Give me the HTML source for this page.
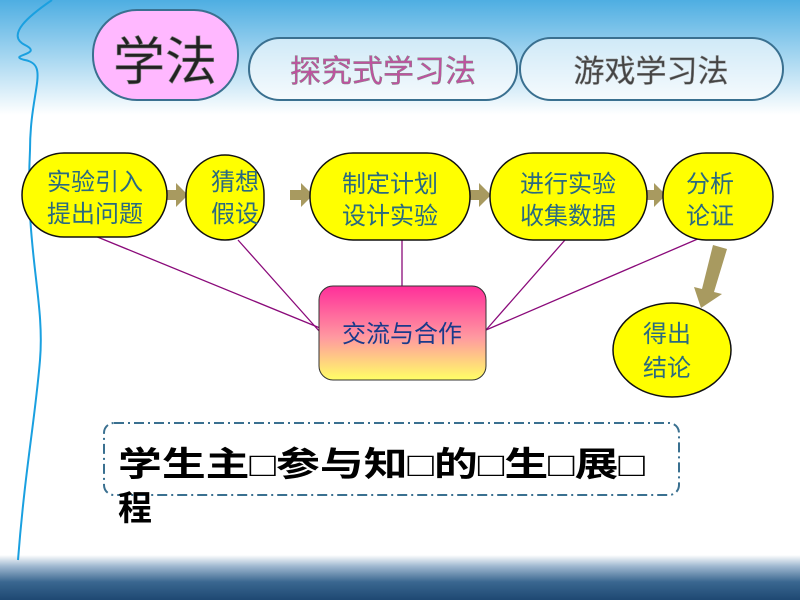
<!DOCTYPE html><html><head><meta charset="utf-8"><style>body{margin:0}svg{display:block}text{font-family:"Liberation Sans","Noto Sans CJK SC",sans-serif}</style></head><body>
<svg width="800" height="600" viewBox="0 0 800 600">
<defs>
<linearGradient id="top" x1="0" y1="0" x2="0" y2="1"><stop offset="0" stop-color="#4eaee2"/><stop offset="1" stop-color="#fff"/></linearGradient>
<linearGradient id="sea" x1="0" y1="0" x2="0" y2="1"><stop offset="0" stop-color="#fff"/><stop offset="0.25" stop-color="#9fb8d0"/><stop offset="0.6" stop-color="#3a6790"/><stop offset="1" stop-color="#1e4872"/></linearGradient>
<linearGradient id="pk" x1="0" y1="0" x2="0" y2="1"><stop offset="0" stop-color="#ff2e9a"/><stop offset="0.55" stop-color="#ff9aa0"/><stop offset="1" stop-color="#ffff66"/></linearGradient>
</defs>
<rect width="800" height="600" fill="#fff"/>
<rect width="800" height="115" fill="url(#top)"/>
<rect y="555" width="800" height="45" fill="url(#sea)"/>
<path d="M52 0 C30 15,5 35,25 45 C45 55,5 55,25 60 C50 65,30 90,30 150 C25 250,45 300,40 360 C35 420,25 470,18 560" stroke="#1aa0e0" stroke-width="2" fill="none"/>
<rect x="93" y="10" width="145" height="90" rx="44" fill="#ffb8ff" stroke="#3a7090" stroke-width="2"/>
<text x="165" y="80" font-size="52" text-anchor="middle" fill="#222" stroke="#888" stroke-width="0.6">学法</text>
<rect x="249" y="38" width="268" height="62" rx="31" fill="#fff" fill-opacity="0.6" stroke="#3a7090" stroke-width="2"/>
<text x="383" y="82" font-size="31" text-anchor="middle" fill="#c050a0" stroke="#888" stroke-width="0.5">探究式学习法</text>
<rect x="520" y="38" width="263" height="62" rx="31" fill="#fff" fill-opacity="0.6" stroke="#3a7090" stroke-width="2"/>
<text x="651" y="82" font-size="31" text-anchor="middle" fill="#444" stroke="#888" stroke-width="0.5">游戏学习法</text>
<g stroke="#8a0a7a" stroke-width="1.3">
<line x1="95" y1="236" x2="320" y2="328"/><line x1="238" y1="240" x2="320" y2="332"/><line x1="402" y1="240" x2="402" y2="286"/><line x1="565" y1="240" x2="486" y2="330"/><line x1="700" y1="238" x2="486" y2="330"/></g>
<g fill="#a89a60">
<polygon points="165,190 176,190 176,183 188,195 176,207 176,200 165,200"/>
<polygon points="290,190 301,190 301,183 313,195 301,207 301,200 290,200"/>
<polygon points="468,190 479,190 479,183 491,195 479,207 479,200 468,200"/>
<polygon points="643,190 654,190 654,183 666,195 654,207 654,200 643,200"/>
<polygon points="713,245 727,249 714,292 722,294 701,308 694,287 702,289"/></g>
<g fill="#ffff00" stroke="#111" stroke-width="1.5">
<rect x="22" y="153" width="145" height="84" rx="42"/>
<rect x="186" y="155" width="78" height="85" rx="39"/>
<rect x="310" y="153" width="160" height="87" rx="43"/>
<rect x="490" y="153" width="157" height="87" rx="43"/>
<rect x="663" y="153" width="110" height="87" rx="43"/>
<ellipse cx="672" cy="350" rx="59" ry="47"/></g>
<g font-size="24" fill="#2a6a80" text-anchor="middle">
<text x="95" y="190">实验引入</text><text x="95" y="222">提出问题</text>
<text x="235" y="190">猜想</text><text x="235" y="222">假设</text>
<text x="390" y="192">制定计划</text><text x="390" y="224">设计实验</text>
<text x="568" y="192">进行实验</text><text x="568" y="224">收集数据</text>
<text x="710" y="192">分析</text><text x="710" y="224">论证</text>
<text x="667" y="342">得出</text><text x="667" y="376">结论</text></g>
<rect x="319" y="286" width="167" height="94" rx="14" fill="url(#pk)" stroke="#333" stroke-width="1"/>
<text x="402" y="342" font-size="24" text-anchor="middle" fill="#1a3a8a">交流与合作</text>
<rect x="104" y="423" width="575" height="72" rx="10" fill="none" stroke="#3a7090" stroke-width="2" stroke-dasharray="10,4,2,4"/>
<g font-size="34" font-weight="bold" fill="#000" style='font-family:"Noto Sans CJK SC",sans-serif'><text x="118" y="476" textLength="527" lengthAdjust="spacingAndGlyphs">学生主□参与知□的□生□展□</text><text x="118" y="520">程</text></g>
</svg></body></html>
